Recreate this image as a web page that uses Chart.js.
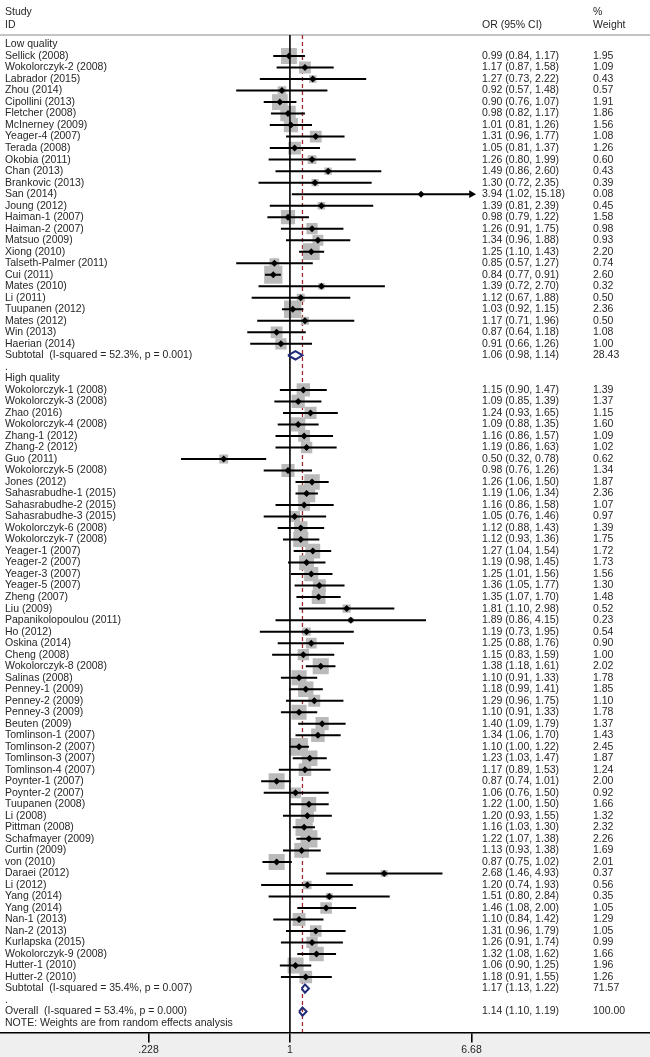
<!DOCTYPE html>
<html>
<head>
<meta charset="utf-8">
<script src="https://cdn.jsdelivr.net/npm/chart.js@4.4.1/dist/chart.umd.min.js"></script>
<style>
  html, body { margin: 0; padding: 0; background: #fff; }
  #wrap { width: 650px; height: 1057px; }
</style>
</head>
<body>
<div id="wrap"><canvas id="forest" width="650" height="1057"></canvas></div>
<script>
// Low quality studies
const lowStudies = ["Sellick (2008)", "Wokolorczyk-2 (2008)", "Labrador (2015)", "Zhou (2014)", "Cipollini (2013)",
  "Fletcher (2008)", "McInerney (2009)", "Yeager-4 (2007)", "Terada (2008)", "Okobia (2011)", "Chan (2013)",
  "Brankovic (2013)", "San (2014)", "Joung (2012)", "Haiman-1 (2007)", "Haiman-2 (2007)", "Matsuo (2009)",
  "Xiong (2010)", "Talseth-Palmer (2011)", "Cui (2011)", "Mates (2010)", "Li (2011)", "Tuupanen (2012)",
  "Mates (2012)", "Win (2013)", "Haerian (2014)"];
const lowOR = [0.99, 1.17, 1.27, 0.92, 0.90, 0.98, 1.01, 1.31, 1.05, 1.26, 1.49, 1.30, 3.94, 1.39, 0.98, 1.26, 1.34,
  1.25, 0.85, 0.84, 1.39, 1.12, 1.03, 1.17, 0.87, 0.91];
const lowLo = [0.84, 0.87, 0.73, 0.57, 0.76, 0.82, 0.81, 0.96, 0.81, 0.80, 0.86, 0.72, 1.02, 0.81, 0.79, 0.91, 0.96,
  1.10, 0.57, 0.77, 0.72, 0.67, 0.92, 0.71, 0.64, 0.66];
const lowHi = [1.17, 1.58, 2.22, 1.48, 1.07, 1.17, 1.26, 1.77, 1.37, 1.99, 2.60, 2.35, 15.18, 2.39, 1.22, 1.75, 1.88,
  1.43, 1.27, 0.91, 2.70, 1.88, 1.15, 1.96, 1.18, 1.26];
const lowW = [1.95, 1.09, 0.43, 0.57, 1.91, 1.86, 1.56, 1.08, 1.26, 0.60, 0.43, 0.39, 0.08, 0.45, 1.58, 0.98, 0.93,
  2.20, 0.74, 2.60, 0.32, 0.50, 2.36, 0.50, 1.08, 1.00];

// High quality studies
const highStudies = ["Wokolorczyk-1 (2008)", "Wokolorczyk-3 (2008)", "Zhao (2016)", "Wokolorczyk-4 (2008)",
  "Zhang-1 (2012)", "Zhang-2 (2012)", "Guo (2011)", "Wokolorczyk-5 (2008)", "Jones (2012)",
  "Sahasrabudhe-1 (2015)", "Sahasrabudhe-2 (2015)", "Sahasrabudhe-3 (2015)", "Wokolorczyk-6 (2008)",
  "Wokolorczyk-7 (2008)", "Yeager-1 (2007)", "Yeager-2 (2007)", "Yeager-3 (2007)", "Yeager-5 (2007)",
  "Zheng (2007)", "Liu (2009)", "Papanikolopoulou (2011)", "Ho (2012)", "Oskina (2014)", "Cheng (2008)",
  "Wokolorczyk-8 (2008)", "Salinas (2008)", "Penney-1 (2009)", "Penney-2 (2009)", "Penney-3 (2009)",
  "Beuten (2009)", "Tomlinson-1 (2007)", "Tomlinson-2 (2007)", "Tomlinson-3 (2007)", "Tomlinson-4 (2007)",
  "Poynter-1 (2007)", "Poynter-2 (2007)", "Tuupanen (2008)", "Li (2008)", "Pittman (2008)",
  "Schafmayer (2009)", "Curtin (2009)", "von (2010)", "Daraei (2012)", "Li (2012)", "Yang (2014)",
  "Yang (2014)", "Nan-1 (2013)", "Nan-2 (2013)", "Kurlapska (2015)", "Wokolorczyk-9 (2008)",
  "Hutter-1 (2010)", "Hutter-2 (2010)"];
const highOR = [1.15, 1.09, 1.24, 1.09, 1.16, 1.19, 0.50, 0.98, 1.26, 1.19, 1.16, 1.05, 1.12, 1.12, 1.27, 1.19,
  1.25, 1.36, 1.35, 1.81, 1.89, 1.19, 1.25, 1.15, 1.38, 1.10, 1.18, 1.29, 1.10, 1.40, 1.34, 1.10, 1.23, 1.17,
  0.87, 1.06, 1.22, 1.20, 1.16, 1.22, 1.13, 0.87, 2.68, 1.20, 1.51, 1.46, 1.10, 1.31, 1.26, 1.32, 1.06, 1.18];
const highLo = [0.90, 0.85, 0.93, 0.88, 0.86, 0.86, 0.32, 0.76, 1.06, 1.06, 0.86, 0.76, 0.88, 0.93, 1.04, 0.98,
  1.01, 1.05, 1.07, 1.10, 0.86, 0.73, 0.88, 0.83, 1.18, 0.91, 0.99, 0.96, 0.91, 1.09, 1.06, 1.00, 1.03, 0.89,
  0.74, 0.76, 1.00, 0.93, 1.03, 1.07, 0.93, 0.75, 1.46, 0.74, 0.80, 1.08, 0.84, 0.96, 0.91, 1.08, 0.90, 0.91];
const highHi = [1.47, 1.39, 1.65, 1.35, 1.57, 1.63, 0.78, 1.26, 1.50, 1.34, 1.58, 1.46, 1.43, 1.36, 1.54, 1.45,
  1.56, 1.77, 1.70, 2.98, 4.15, 1.95, 1.76, 1.59, 1.61, 1.33, 1.41, 1.75, 1.33, 1.79, 1.70, 1.22, 1.47, 1.53,
  1.01, 1.50, 1.50, 1.55, 1.30, 1.38, 1.38, 1.02, 4.93, 1.93, 2.84, 2.00, 1.42, 1.79, 1.74, 1.62, 1.25, 1.55];
const highW = [1.39, 1.37, 1.15, 1.60, 1.09, 1.02, 0.62, 1.34, 1.87, 2.36, 1.07, 0.97, 1.39, 1.75, 1.72, 1.73,
  1.56, 1.30, 1.48, 0.52, 0.23, 0.54, 0.90, 1.00, 2.02, 1.78, 1.85, 1.10, 1.78, 1.37, 1.43, 2.45, 1.87, 1.24,
  2.00, 0.92, 1.66, 1.32, 2.32, 2.26, 1.69, 2.01, 0.37, 0.56, 0.35, 1.05, 1.29, 1.05, 0.99, 1.66, 1.96, 1.26];

// Pooled estimates: low subtotal, high subtotal, overall
const pooledLabels = ["Subtotal  (I-squared = 52.3%, p = 0.001)", "Subtotal  (I-squared = 35.4%, p = 0.007)",
  "Overall  (I-squared = 53.4%, p = 0.000)"];
const pooledOR = [1.06, 1.17, 1.14];
const pooledLo = [0.98, 1.13, 1.10];
const pooledHi = [1.14, 1.22, 1.19];
const pooledW = [28.43, 71.57, 100.00];

// x axis (log odds ratio)
const xTicks = [0.228, 1, 6.68];
const xTickLabels = [".228", "1", "6.68"];
const xMin = 0.0482;
const xMax = 43.2;
const yMin = -0.825;
const yMax = 85.81;

const FONT = "'Liberation Sans', Arial, sans-serif";
const TEXT = "#262626";

// Build rows in display order
const rows = [];
rows.push({ label: "Low quality", kind: "head" });
lowStudies.forEach((s, i) => rows.push({ label: s, kind: "study", or: lowOR[i], lo: lowLo[i], hi: lowHi[i], w: lowW[i] }));
rows.push({ label: pooledLabels[0], kind: "pooled", or: pooledOR[0], lo: pooledLo[0], hi: pooledHi[0], w: pooledW[0] });
rows.push({ label: ".", kind: "head" });
rows.push({ label: "High quality", kind: "head" });
highStudies.forEach((s, i) => rows.push({ label: s, kind: "study", or: highOR[i], lo: highLo[i], hi: highHi[i], w: highW[i] }));
rows.push({ label: pooledLabels[1], kind: "pooled", or: pooledOR[1], lo: pooledLo[1], hi: pooledHi[1], w: pooledW[1] });
rows.push({ label: ".", kind: "head" });
rows.push({ label: pooledLabels[2], kind: "pooled", or: pooledOR[2], lo: pooledLo[2], hi: pooledHi[2], w: pooledW[2] });
rows.push({ label: "NOTE: Weights are from random effects analysis", kind: "head" });

const ciData = [];
const boxData = [];
const boxRadius = [];
const pointData = [];
const arrowData = [];
const diamondData = [];
const axisRight = xTicks[xTicks.length - 1];

rows.forEach((r, y) => {
  if (r.kind === "study") {
    ciData.push({ x: r.lo, y: y }, { x: Math.min(r.hi, axisRight), y: y }, { x: r.lo, y: null });
    boxData.push({ x: r.or, y: y });
    boxRadius.push(8 * Math.sqrt(r.w));
    pointData.push({ x: r.or, y: y });
    if (r.hi > axisRight) arrowData.push({ x: axisRight, y: y });
  } else if (r.kind === "pooled") {
    const h = 0.36;
    diamondData.push({ x: r.lo, y: y }, { x: r.or, y: y - h }, { x: r.hi, y: y },
      { x: r.or, y: y + h }, { x: r.lo, y: y }, { x: r.lo, y: null });
  }
});

// Header, rule and label text
const forestText = {
  id: "forestText",
  beforeDraw(chart) {
    const { ctx, chartArea, width, height } = chart;
    ctx.save();
    ctx.fillStyle = "#efefef";
    ctx.fillRect(0, chartArea.bottom, width, height - chartArea.bottom);
    ctx.strokeStyle = "#c4c4c4";
    ctx.lineWidth = 2;
    ctx.beginPath();
    ctx.moveTo(0, chartArea.top);
    ctx.lineTo(width, chartArea.top);
    ctx.stroke();
    ctx.restore();
  },
  afterDraw(chart) {
    const { ctx } = chart;
    const ys = chart.scales.y;
    ctx.save();
    ctx.font = "10.5px " + FONT;
    ctx.fillStyle = TEXT;
    ctx.textBaseline = "middle";
    ctx.textAlign = "left";
    const y1 = ys.getPixelForValue(-2.82);
    const y2 = ys.getPixelForValue(-1.72);
    ctx.fillText("Study", 5, y1);
    ctx.fillText("ID", 5, y2);
    ctx.fillText("OR (95% CI)", 482, y2);
    ctx.fillText("%", 593, y1);
    ctx.fillText("Weight", 593, y2);
    rows.forEach((r, i) => {
      const py = ys.getPixelForValue(i);
      ctx.fillText(r.label, 5, py);
      if (r.kind !== "head") {
        ctx.fillText(r.or.toFixed(2) + " (" + r.lo.toFixed(2) + ", " + r.hi.toFixed(2) + ")", 482, py);
        ctx.fillText(r.w.toFixed(2), 593, py);
      }
    });
    ctx.restore();
  },
};

new Chart(document.getElementById("forest"), {
  type: "scatter",
  data: {
    datasets: [
      {
        label: "weights",
        data: boxData,
        pointStyle: "rect",
        pointRadius: boxRadius,
        backgroundColor: "#bababa",
        borderWidth: 0,
        order: 5,
      },
      {
        label: "overall",
        data: [{ x: pooledOR[2], y: yMin }, { x: pooledOR[2], y: yMax }],
        showLine: true,
        borderColor: "#9e2a2f",
        borderWidth: 1.3,
        borderDash: [4, 3],
        pointRadius: 0,
        order: 6,
      },
      {
        label: "null",
        data: [{ x: 1, y: yMin }, { x: 1, y: yMax }],
        showLine: true,
        borderColor: "#000",
        borderWidth: 1.6,
        pointRadius: 0,
        order: 4,
      },
      {
        label: "ci",
        data: ciData,
        showLine: true,
        spanGaps: false,
        borderColor: "#000",
        borderWidth: 2,
        pointRadius: 0,
        order: 3,
      },
      {
        label: "arrows",
        data: arrowData,
        pointStyle: "triangle",
        pointRotation: 90,
        pointRadius: 4.5,
        backgroundColor: "#000",
        borderColor: "#000",
        borderWidth: 0,
        order: 2,
      },
      {
        label: "pooled",
        data: diamondData,
        showLine: true,
        spanGaps: false,
        borderColor: "#1f2a78",
        borderWidth: 2,
        pointRadius: 0,
        order: 1,
      },
      {
        label: "estimates",
        data: pointData,
        pointStyle: "rectRot",
        pointRadius: 3.5,
        backgroundColor: "#000",
        borderWidth: 0,
        order: 0,
      },
    ],
  },
  options: {
    responsive: false,
    animation: false,
    events: [],
    layout: { autoPadding: false, padding: { top: 35, left: 0, right: 0, bottom: 0 } },
    plugins: {
      legend: { display: false },
      tooltip: { enabled: false },
    },
    scales: {
      x: {
        type: "logarithmic",
        position: "bottom",
        min: xMin,
        max: xMax,
        afterBuildTicks: (axis) => {
          axis.ticks = xTicks.map((v) => ({ value: v }));
        },
        afterFit: (axis) => {
          axis.paddingLeft = 0;
          axis.paddingRight = 0;
        },
        ticks: {
          autoSkip: false,
          maxRotation: 0,
          padding: 1,
          color: TEXT,
          font: { family: FONT, size: 10.5 },
          callback: (value, index) => xTickLabels[index],
        },
        grid: {
          drawOnChartArea: false,
          drawTicks: true,
          tickLength: 10,
          color: "#000",
          lineWidth: 1.6,
        },
        border: { display: true, color: "#000", width: 1.6 },
      },
      y: {
        type: "linear",
        reverse: true,
        min: yMin,
        max: yMax,
        display: false,
      },
    },
  },
  plugins: [forestText],
});
</script>
</body>
</html>
